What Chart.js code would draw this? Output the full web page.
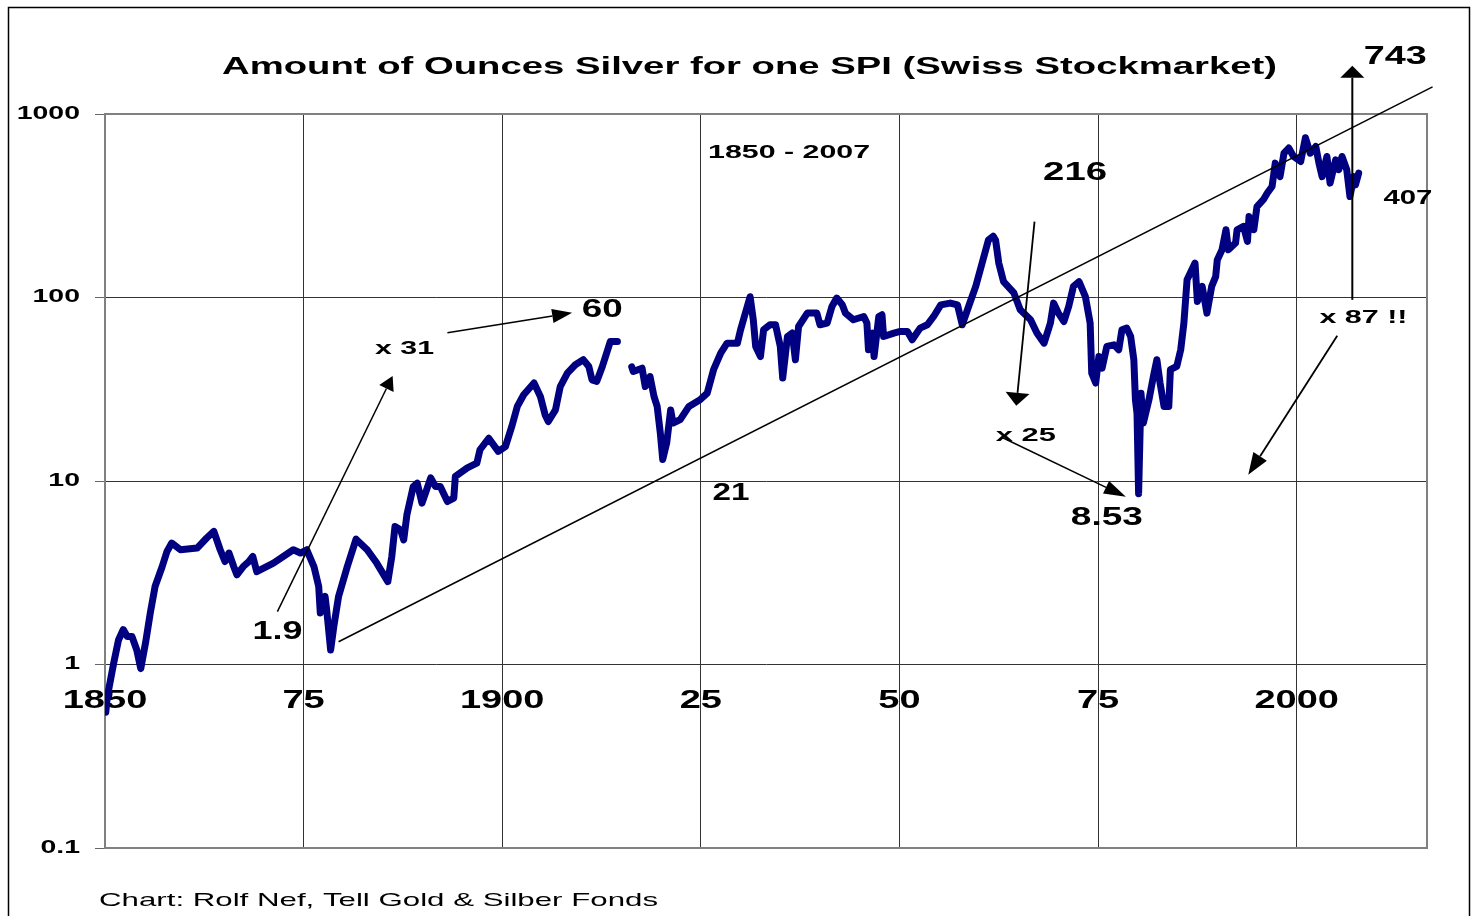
<!DOCTYPE html>
<html><head><meta charset="utf-8">
<script src="https://cdn.jsdelivr.net/npm/chart.js@4.4.1/dist/chart.umd.min.js"></script>
<style>html,body{margin:0;padding:0;background:#fff}#wrap{width:1474px;height:916px;position:relative}</style>
</head><body><div id="wrap"><canvas id="c" width="1474" height="916"></canvas></div>
<script>
// ---- data (year, ounces of silver for one SPI) ----
const years = [1850.1,1850.3,1851.1,1851.7,1852.3,1852.8,1853.4,1854.0,1854.5,1855.1,1855.7,1856.3,1857.2,1857.8,1858.4,1859.5,1861.6,1862.8,1863.7,1864.5,1865.1,1865.6,1866.2,1866.6,1867.4,1868.1,1868.6,1869.1,1871.2,1873.7,1874.6,1875.4,1876.3,1876.9,1877.1,1877.7,1877.9,1878.4,1878.8,1879.4,1880.5,1881.6,1883.0,1884.2,1885.6,1886.1,1886.5,1887.2,1887.6,1888.0,1888.8,1889.3,1889.9,1891.0,1891.6,1892.2,1893.1,1893.9,1894.1,1895.6,1896.8,1897.2,1898.3,1899.5,1900.4,1901.2,1901.9,1902.7,1904.0,1904.8,1905.4,1905.8,1906.7,1907.3,1908.2,1909.2,1910.2,1910.9,1911.3,1911.9,1912.6,1913.6,1914.5,1915.2,1916.3,1916.5,1917.6,1918.0,1918.6,1919.1,1919.5,1919.9,1920.2,1920.7,1921.2,1921.5,1922.4,1923.5,1924.9,1925.8,1926.6,1927.5,1928.3,1929.6,1930.0,1930.6,1931.2,1931.6,1931.9,1932.5,1932.9,1933.7,1934.4,1935.0,1935.3,1935.9,1936.5,1936.9,1937.3,1938.4,1939.6,1940.0,1940.9,1941.5,1942.1,1942.8,1943.2,1944.2,1945.5,1945.9,1946.1,1946.6,1946.8,1947.4,1947.8,1948.0,1949.3,1950.1,1951.0,1951.6,1952.6,1953.5,1954.3,1955.2,1956.4,1957.3,1957.9,1958.7,1959.6,1960.4,1961.2,1961.8,1962.1,1962.5,1963.1,1964.4,1965.2,1966.5,1967.3,1968.2,1969.0,1969.4,1970.0,1970.7,1971.3,1971.9,1972.6,1973.4,1974.0,1974.2,1974.7,1975.1,1975.5,1976.1,1977.0,1977.6,1978.0,1978.6,1979.1,1979.5,1979.7,1979.9,1980.1,1980.4,1980.7,1981.4,1982.0,1982.4,1982.8,1983.3,1983.9,1984.1,1984.9,1985.4,1985.8,1986.2,1987.2,1987.5,1988.1,1988.7,1989.3,1989.8,1990.0,1990.6,1991.1,1991.4,1992.3,1992.5,1993.3,1993.8,1994.0,1994.6,1995.0,1995.8,1996.3,1996.9,1997.3,1997.9,1998.4,1999.0,1999.6,2000.5,2001.1,2001.7,2002.4,2002.8,2003.2,2003.8,2004.2,2004.9,2005.3,2005.7,2006.3,2006.7,2007.2,2007.4,2007.8];
const ratio = [0.55,0.67,1.02,1.36,1.55,1.42,1.42,1.20,0.95,1.31,1.91,2.66,3.42,4.13,4.59,4.22,4.31,4.89,5.31,4.22,3.64,4.05,3.42,3.08,3.42,3.64,3.88,3.21,3.57,4.22,4.05,4.22,3.42,2.66,1.91,2.35,1.99,1.20,1.61,2.35,3.42,4.82,4.22,3.57,2.83,3.88,5.65,5.42,4.78,6.54,9.33,9.74,7.58,10.4,9.33,9.33,7.73,8.07,10.6,11.8,12.5,14.8,17.1,14.5,15.4,19.8,25.5,29.5,34.2,28.9,22.9,21.1,24.4,32.7,38.7,43.0,45.8,42.1,35.6,34.9,42.1,57.5,57.5,null,41.9,39.5,41.2,32.7,37.1,28.9,25.5,18.2,13.1,16.1,24.4,20.7,21.6,25.5,27.7,30.1,40.4,49.8,56.4,56.4,66.7,82.2,101,75.6,54.1,47.7,66.7,71.0,71.0,54.1,36.4,61.3,64.0,45.8,69.5,82.2,82.2,71.0,72.6,89.3,99.3,91.2,82.2,75.6,78.8,72.6,51.9,64.0,47.7,78.8,80.5,61.3,64.0,65.3,65.3,58.8,68.1,71.0,78.8,91.2,93.2,91.2,71.0,89.3,115,154,206,216,205,154,122,106,85.7,75.6,64.0,56.4,72.6,93.2,82.2,74.0,89.3,115,122,101,72.6,38.7,34.2,47.7,41.2,54.1,55.2,51.9,66.7,68.1,61.3,45.8,27.7,23.4,8.53,30.1,20.7,27.7,37.9,45.8,34.2,25.5,25.5,40.4,42.1,51.9,72.6,125,154,95.1,115,82.2,115,130,160,182,234,182,198,234,244,202,276,234,313,341,371,403,540,456,612,652,587,551,743,612,665,540,456,587,420,563,497,587,497,355,456,411,476];
const trendYears = [1879.4, 2017.1];
const trendValues = [1.33, 1406];
const yTickValues = [0.1, 1, 10, 100, 1000];
const yTickLabels = ['0.1', '1', '10', '100', '1000'];
const xTickValues = [1850, 1875, 1900, 1925, 1950, 1975, 2000];
const xTickLabels = ['1850', '75', '1900', '25', '50', '75', '2000'];

// ---- annotations (in data coordinates: [year, value]) ----
const arrows = [
  {from:[1871.7,1.94], to:[1886.2,37.4], len:14, hw:8, lw:1.5},
  {from:[1893.1,64.2], to:[1908.8,82.5], len:20, hw:7, lw:1.5},
  {from:[1967.0,259], to:[1964.7,25.7], len:13, hw:12, lw:1.8},
  {from:[1963.0,17.2], to:[1978.5,8.2], len:22, hw:7, lw:1.5},
  {from:[2007.0,97.1], to:[2007.0,1832], len:12, hw:12, lw:2},
  {from:[2005.1,61.8], to:[1993.9,10.8], len:22, hw:8, lw:1.8}
];
const notes = [
  {t:'1.9', at:[1871.7,1.53], size:25, w:50},
  {t:'x 31', at:[1887.7,53.8], size:19, w:59},
  {t:'60', at:[1912.6,87.9], size:25, w:41},
  {t:'1850 - 2007', at:[1936.1,630], size:19, w:162},
  {t:'21', at:[1928.8,8.73], size:23, w:37},
  {t:'216', at:[1972.1,490], size:25, w:64},
  {t:'x 25', at:[1965.9,18.1], size:19, w:60},
  {t:'8.53', at:[1976.1,6.46], size:25, w:72},
  {t:'743', at:[2012.4,2103], size:25, w:63},
  {t:'407', at:[2014.0,358], size:21, w:49},
  {t:'x 87 !!', at:[2008.4,79.4], size:19, w:88}
];

function stretchText(ctx, t, x, y, size, weight, w) {
  ctx.save();
  ctx.font = weight + ' ' + size + 'px "Liberation Sans", Arial, sans-serif';
  ctx.textAlign = 'center'; ctx.textBaseline = 'middle'; ctx.fillStyle = '#000';
  const m = ctx.measureText(t).width;
  ctx.translate(x, y + 2); ctx.scale(w / m, 1); ctx.fillText(t, 0, 0);
  ctx.restore();
}
function drawArrow(ctx, x1, y1, x2, y2, len, hw, lw) {
  const a = Math.atan2(y2 - y1, x2 - x1);
  const bx = x2 - len * Math.cos(a), by = y2 - len * Math.sin(a);
  ctx.beginPath(); ctx.moveTo(x1, y1); ctx.lineTo(bx, by);
  ctx.lineWidth = lw; ctx.strokeStyle = '#000'; ctx.stroke();
  ctx.beginPath(); ctx.moveTo(x2, y2);
  ctx.lineTo(bx + hw * Math.sin(a), by - hw * Math.cos(a));
  ctx.lineTo(bx - hw * Math.sin(a), by + hw * Math.cos(a));
  ctx.closePath(); ctx.fillStyle = '#000'; ctx.fill();
}

const overlay = {
  id: 'overlay',
  afterLayout(chart) {
    // tick labels of the original are horizontally stretched: scale each label about its anchor
    [['x', 1.52], ['y', 1.58]].forEach(([id, sx]) => {
      const s = chart.scales[id];
      if (s._stretchWrapped) return;
      const orig = s.drawLabels;
      s.drawLabels = function (area) {
        const c = this.ctx;
        const proto = Object.getPrototypeOf(c).fillText;
        c.fillText = function (t, x, y) { this.save(); this.translate(x, y); this.scale(sx, 1); proto.call(this, t, 0, 0); this.restore(); };
        try { orig.call(this, area); } finally { delete c.fillText; }
      };
      s._stretchWrapped = true;
    });
  },
  beforeDraw(chart) {
    const c = chart.ctx; c.save(); c.fillStyle = '#fff'; c.fillRect(0, 0, chart.width, chart.height); c.restore();
  },
  beforeDatasetsDraw(chart) {
    const c = chart.ctx, a = chart.chartArea;
    c.save(); c.strokeStyle = '#808080'; c.lineWidth = 2;
    c.beginPath(); c.moveTo(a.left, a.top); c.lineTo(a.right, a.top); c.lineTo(a.right, a.bottom); c.lineTo(a.left, a.bottom); c.stroke();
    c.restore();
  },
  afterDraw(chart) {
    const c = chart.ctx, xs = chart.scales.x, ys = chart.scales.y;
    c.save();
    arrows.forEach(r => drawArrow(c, xs.getPixelForValue(r.from[0]), ys.getPixelForValue(r.from[1]),
      xs.getPixelForValue(r.to[0]), ys.getPixelForValue(r.to[1]), r.len, r.hw, r.lw));
    notes.forEach(n => stretchText(c, n.t, xs.getPixelForValue(n.at[0]), ys.getPixelForValue(n.at[1]), n.size, 'bold', n.w));
    stretchText(c, 'Amount of Ounces Silver for one SPI (Swiss Stockmarket)', 749.5, 65, 24, 'bold', 1055);
    stretchText(c, 'Chart: Rolf Nef, Tell Gold & Silber Fonds', 378.5, 899, 19, 'normal', 559);
    c.strokeStyle = '#000'; c.lineWidth = 1.5;
    c.strokeRect(8.5, 7.5, 1461, 930);
    c.restore();
  }
};

const silverPoints = years.map((y, i) => ({x: y, y: ratio[i]}));
const trendPoints = trendYears.map((y, i) => ({x: y, y: trendValues[i]}));

new Chart(document.getElementById('c'), {
  type: 'line',
  data: {
    datasets: [
      {label: 'Trend', data: trendPoints, borderColor: '#000', borderWidth: 1.5, pointRadius: 0, clip: false, order: 0},
      {label: 'Ounces silver per SPI', data: silverPoints, borderColor: '#000080', borderWidth: 7, pointRadius: 0,
       borderJoinStyle: 'round', borderCapStyle: 'round', spanGaps: false, tension: 0, order: 1}
    ]
  },
  options: {
    responsive: false, animation: false, devicePixelRatio: 1,
    layout: {padding: {top: 114, right: 47, bottom: 68, left: 0}},
    plugins: {legend: {display: false}, tooltip: {enabled: false}, title: {display: false}},
    scales: {
      x: {
        type: 'linear', min: 1850, max: 2016.4, position: {y: 1},
        afterBuildTicks: s => { s.ticks = xTickValues.map(v => ({value: v})); },
        ticks: {callback: (v, i) => xTickLabels[i], font: {family: 'Liberation Sans', weight: 'bold', size: 25}, color: '#000', padding: 15, maxRotation: 0, autoSkip: false},
        grid: {color: '#333', lineWidth: 1, tickLength: 7, tickColor: '#333', drawTicks: true},
        border: {display: false}
      },
      y: {
        type: 'logarithmic', min: 0.1, max: 1000, position: 'left',
        afterBuildTicks: s => { s.ticks = yTickValues.map(v => ({value: v})); },
        afterFit: s => { s.width = 105; },
        ticks: {callback: (v, i) => yTickLabels[i], font: {family: 'Liberation Sans', weight: 'bold', size: 18}, color: '#000', padding: 15, autoSkip: false},
        grid: {color: '#333', lineWidth: 1, tickLength: 10, tickColor: '#666'},
        border: {display: true, color: '#808080', width: 2}
      }
    }
  },
  plugins: [overlay]
});
</script></body></html>
